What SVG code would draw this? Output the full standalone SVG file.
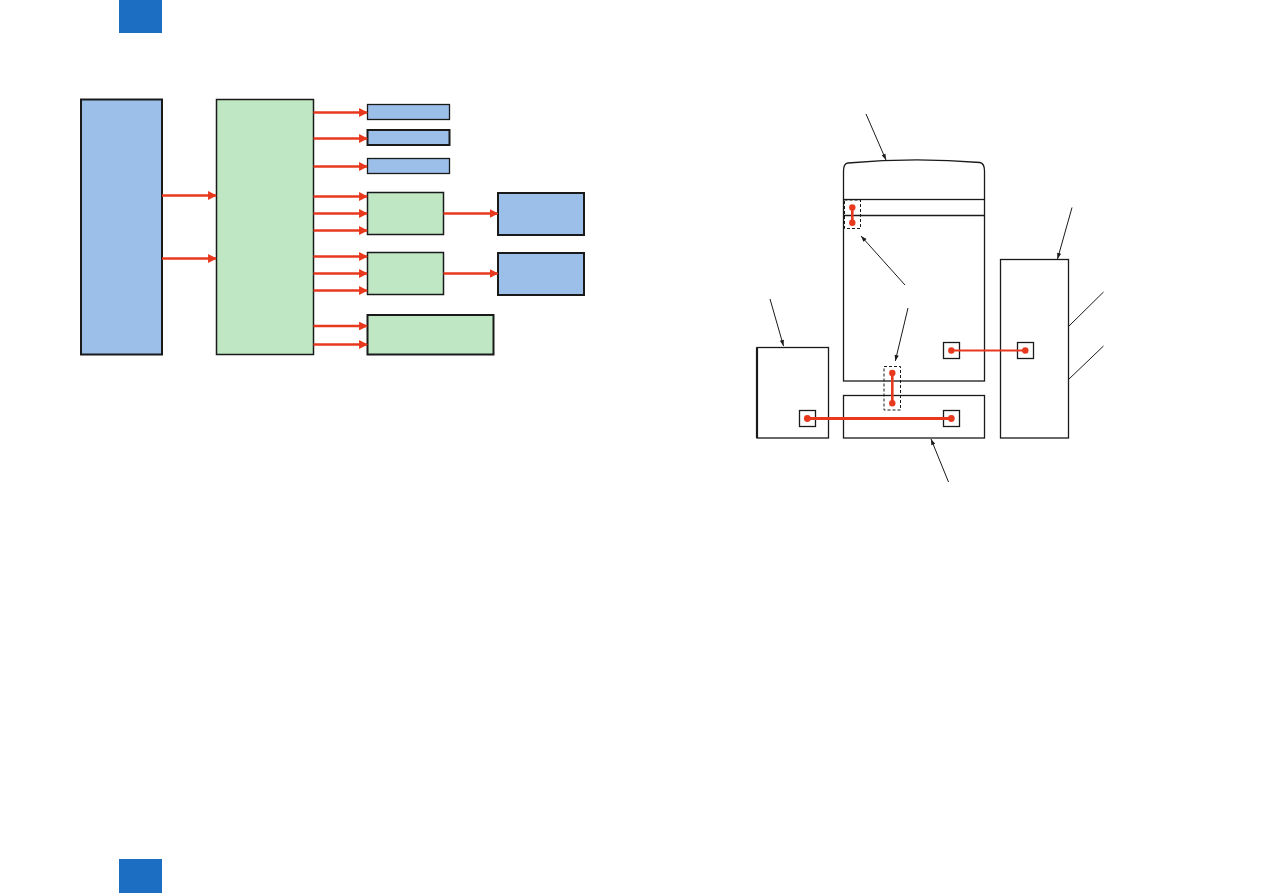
<svg xmlns="http://www.w3.org/2000/svg" width="1263" height="893" viewBox="0 0 1263 893">
<defs>
<style>
.bl{fill:#9bbfe8;stroke:#1a1a1a;stroke-width:1.8}
.gr{fill:#c0e7c4;stroke:#1a1a1a;stroke-width:1.5}
.ra{stroke:#e8391e;stroke-width:2.6;fill:none;marker-end:url(#rh)}
.box{fill:none;stroke:#1a1a1a;stroke-width:1.3}
.ln{stroke:#1a1a1a;stroke-width:1;fill:none}
.ka{stroke:#1a1a1a;stroke-width:1;fill:none;marker-end:url(#kh)}
.dash{fill:none;stroke:#1a1a1a;stroke-width:1;stroke-dasharray:3,2}
.rl{stroke:#e8391e;stroke-width:2.6}
.dot{fill:#e8391e}
</style>
<marker id="rh" viewBox="0 0 10 10" refX="9" refY="5" markerWidth="3.4" markerHeight="3.4" orient="auto" markerUnits="strokeWidth"><path d="M0,0 L10,5 L0,10 Z" fill="#e8391e"/></marker>
<marker id="kh" viewBox="0 0 10 10" refX="10" refY="5" markerWidth="9" markerHeight="6" orient="auto" markerUnits="userSpaceOnUse"><path d="M0,1.5 L10,5 L0,8.5 Z" fill="#1a1a1a"/></marker>
</defs>
<rect x="119" y="0" width="43" height="33" fill="#1b6ec2"/>
<rect x="119" y="859" width="43" height="34" fill="#1b6ec2"/>

<g id="left-diagram">
<g id="n-main-blue"><rect class="bl" x="81" y="99.5" width="81" height="255" style="stroke-width:2"/></g>
<g id="n-main-green"><rect class="gr" x="216.5" y="99.5" width="97" height="255"/></g>
<g id="n-b1"><rect class="bl" x="367.5" y="104.5" width="82" height="15" style="stroke-width:1.3"/></g>
<g id="n-b2"><rect class="bl" x="367.5" y="130" width="82" height="15" style="stroke-width:2"/></g>
<g id="n-b3"><rect class="bl" x="367.5" y="158.5" width="82" height="15" style="stroke-width:1.3"/></g>
<g id="n-g1"><rect class="gr" x="367.5" y="192.5" width="76" height="42"/></g>
<g id="n-g2"><rect class="gr" x="367.5" y="252.5" width="76" height="42"/></g>
<g id="n-g3"><rect class="gr" x="367.5" y="315" width="126" height="39.5" style="stroke-width:2"/></g>
<g id="n-b4"><rect class="bl" x="498" y="193" width="86" height="42" style="stroke-width:2"/></g>
<g id="n-b5"><rect class="bl" x="498" y="253" width="86" height="42" style="stroke-width:2"/></g>
<g id="connectors-left">
<line class="ra" x1="162" y1="195.5" x2="216" y2="195.5"/>
<line class="ra" x1="162" y1="258.5" x2="216" y2="258.5"/>
<line class="ra" x1="313.5" y1="112.5" x2="367" y2="112.5"/>
<line class="ra" x1="313.5" y1="138.5" x2="367" y2="138.5"/>
<line class="ra" x1="313.5" y1="166.5" x2="367" y2="166.5"/>
<line class="ra" x1="313.5" y1="196.5" x2="367" y2="196.5"/>
<line class="ra" x1="313.5" y1="213.5" x2="367" y2="213.5"/>
<line class="ra" x1="313.5" y1="230.5" x2="367" y2="230.5"/>
<line class="ra" x1="313.5" y1="256.5" x2="367" y2="256.5"/>
<line class="ra" x1="313.5" y1="273.5" x2="367" y2="273.5"/>
<line class="ra" x1="313.5" y1="290.5" x2="367" y2="290.5"/>
<line class="ra" x1="313.5" y1="326" x2="367" y2="326"/>
<line class="ra" x1="313.5" y1="344.5" x2="367" y2="344.5"/>
<line class="ra" x1="443.5" y1="213.5" x2="497.5" y2="213.5"/>
<line class="ra" x1="443.5" y1="273.5" x2="497.5" y2="273.5"/>
</g>
</g>

<g id="right-diagram">
<g id="n-tower">
<path class="box" d="M843.5,199.5 L843.5,171 Q843.5,163.5 848,163 Q914,157 980,162.5 Q984.5,163.5 984.5,171 L984.5,199.5"/>
<rect class="box" x="843.5" y="199.5" width="141" height="181.5"/>
<line class="ln" x1="843.5" y1="215.5" x2="984.5" y2="215.5" style="stroke-width:1.3"/>
<rect class="box" x="943.5" y="342.5" width="16" height="16"/>
</g>
<g id="n-left-box">
<rect class="box" x="757" y="347.5" width="71.5" height="90.5"/>
<line class="ln" x1="757" y1="347.5" x2="757" y2="438" style="stroke-width:2.2"/>
<rect class="box" x="799.5" y="410.5" width="16" height="16"/>
</g>
<g id="n-bottom-box">
<rect class="box" x="843.5" y="395.5" width="141" height="42.5"/>
<rect class="box" x="943.5" y="410.5" width="16" height="16"/>
</g>
<g id="n-right-box">
<rect class="box" x="1000.5" y="259.5" width="68" height="178.5"/>
<rect class="box" x="1017.5" y="342.5" width="16" height="16"/>
</g>
<g id="n-dash-top"><rect class="dash" x="844.5" y="200" width="16" height="28.5"/></g>
<g id="n-dash-mid"><rect class="dash" x="884" y="366.5" width="16.5" height="43.5"/></g>
<g id="connectors-right">
<line class="rl" x1="852.3" y1="207.5" x2="852.3" y2="222.5"/>
<circle class="dot" cx="852.3" cy="207.5" r="3.2"/>
<circle class="dot" cx="852.3" cy="222.7" r="3.2"/>
<line class="rl" x1="892.3" y1="373" x2="892.3" y2="403.3"/>
<circle class="dot" cx="892.3" cy="373" r="3.2"/>
<circle class="dot" cx="892.3" cy="403.3" r="3.2"/>
<line class="rl" x1="951.3" y1="350.5" x2="1025.3" y2="350.5" style="stroke-width:2.2"/>
<circle class="dot" cx="951.3" cy="350.5" r="3.2"/>
<circle class="dot" cx="1025.3" cy="350.5" r="3.2"/>
<line class="rl" x1="807.3" y1="418.5" x2="951.3" y2="418.5" style="stroke-width:3"/>
<circle class="dot" cx="807.3" cy="418.5" r="3.4"/>
<circle class="dot" cx="951.3" cy="418.5" r="3.4"/>
<line class="ka" x1="866" y1="114" x2="886" y2="160"/>
<line class="ka" x1="905" y1="285" x2="861" y2="236"/>
<line class="ka" x1="1072" y1="207.5" x2="1057.5" y2="259"/>
<line class="ka" x1="770" y1="299" x2="783.5" y2="346"/>
<line class="ka" x1="908" y1="308" x2="895.3" y2="361"/>
<line class="ka" x1="948.5" y1="482" x2="931" y2="439"/>
<line class="ln" x1="1068.5" y1="326.5" x2="1103.5" y2="292"/>
<line class="ln" x1="1068.5" y1="379.5" x2="1103.5" y2="346"/>
</g>
</g>
</svg>
